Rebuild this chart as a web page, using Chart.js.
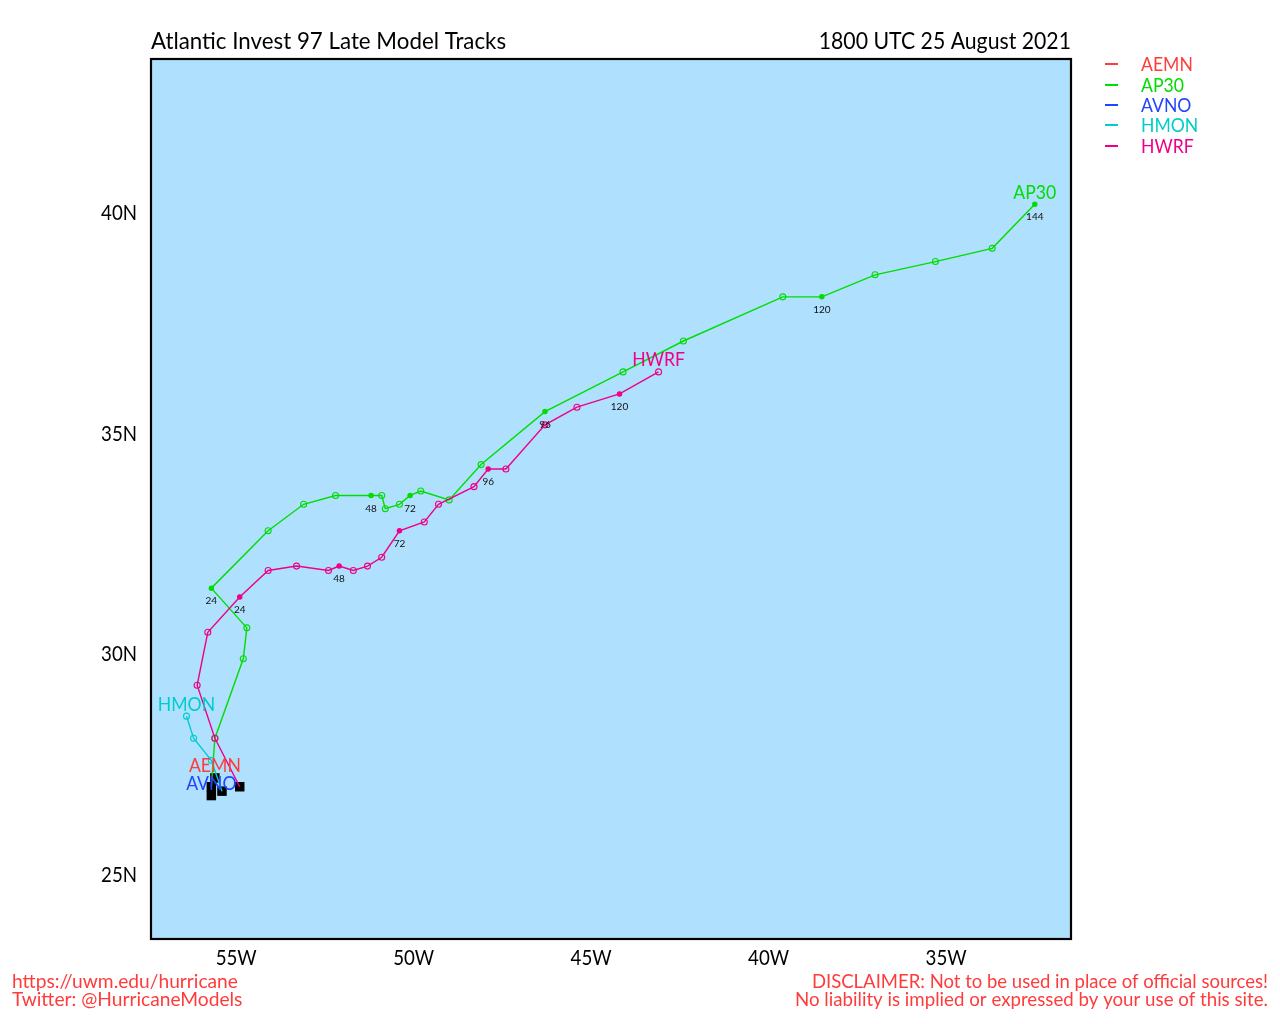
<!DOCTYPE html>
<html>
<head>
<meta charset="utf-8">
<title>Atlantic Invest 97 Late Model Tracks</title>
<script src="https://cdn.jsdelivr.net/npm/chart.js@4"></script>
<style>
  html, body { margin: 0; padding: 0; background: #fff; }
  canvas { display: block; }
</style>
</head>
<body>
<canvas id="tracks" width="1280" height="1024"></canvas>
<script>
// Tick labels
const lonTicks = [-55, -50, -45, -40, -35];
const lonLabels = ['55W', '50W', '45W', '40W', '35W'];
const latTicks = [25, 30, 35, 40];
const latLabels = ['25N', '30N', '35N', '40N'];

// Model tracks
const ap30Lon = [-55.7, -55.6, -54.8, -54.7, -55.7, -54.1, -53.1, -52.2, -51.2, -50.9, -50.8, -50.4, -50.1, -49.8, -49.0, -48.1, -46.3, -44.1, -42.4, -39.6, -38.5, -37.0, -35.3, -33.7, -32.5];
const ap30Lat = [27.0, 28.1, 29.9, 30.6, 31.5, 32.8, 33.4, 33.6, 33.6, 33.6, 33.3, 33.4, 33.6, 33.7, 33.5, 34.3, 35.5, 36.4, 37.1, 38.1, 38.1, 38.6, 38.9, 39.2, 40.2];
const ap30Hours = ['', '', '', '', '24', '', '', '', '48', '', '', '', '72', '', '', '', '96', '', '', '', '120', '', '', '', '144'];

const hwrfLon = [-54.9, -55.6, -56.1, -55.8, -54.9, -54.1, -53.3, -52.4, -52.1, -51.7, -51.3, -50.9, -50.4, -49.7, -49.3, -48.3, -47.9, -47.4, -46.3, -45.4, -44.2, -43.1];
const hwrfLat = [27.0, 28.1, 29.3, 30.5, 31.3, 31.9, 32.0, 31.9, 32.0, 31.9, 32.0, 32.2, 32.8, 33.0, 33.4, 33.8, 34.2, 34.2, 35.2, 35.6, 35.9, 36.4];
const hwrfHours = ['', '', '', '', '24', '', '', '', '48', '', '', '', '72', '', '', '', '96', '', '', '', '120', ''];

const hmonLon = [-55.4, -55.7, -56.2, -56.4];
const hmonLat = [26.9, 27.6, 28.1, 28.6];
const hmonHours = ['', '', '', ''];

const aemnLon = [-55.6];
const aemnLat = [27.2];
const aemnHours = [''];

const avnoLon = [-55.7];
const avnoLat = [26.8];
const avnoHours = [''];

// Legend
const modelNames = ['AEMN', 'AP30', 'AVNO', 'HMON', 'HWRF'];
const modelColors = ['#ff3b3b', '#00dd00', '#2244ff', '#00cccc', '#ee0088'];

function toPoints(lons, lats) {
  return lons.map((lon, i) => ({ x: lon, y: lats[i] }));
}

function track(name, lons, lats, hours) {
  const idx = modelNames.indexOf(name);
  const color = modelColors[idx];
  return {
    label: name,
    data: toPoints(lons, lats),
    hours: hours,
    showLine: true,
    borderColor: color,
    borderWidth: 1.4,
    pointBorderColor: color,
    pointBorderWidth: 1.1,
    pointBackgroundColor: ctx => hours[ctx.dataIndex] ? color : 'transparent',
    pointRadius: ctx => ctx.dataIndex === 0 ? 0 : (hours[ctx.dataIndex] ? 2.2 : 3),
    // later models sit on top, chart.js draws the lowest order last
    order: modelNames.length - idx
  };
}

// Black boxes at each model's starting position, under the lines
const startBoxes = {
  label: 'start',
  data: toPoints(
    [aemnLon[0], avnoLon[0], ap30Lon[0], hmonLon[0], hwrfLon[0]],
    [aemnLat[0], avnoLat[0], ap30Lat[0], hmonLat[0], hwrfLat[0]]
  ),
  showLine: false,
  pointStyle: 'rect',
  pointRadius: 6.7,
  pointBorderWidth: 0,
  pointBackgroundColor: '#000',
  order: 10
};

const tracks = [
  track('AEMN', aemnLon, aemnLat, aemnHours),
  track('AP30', ap30Lon, ap30Lat, ap30Hours),
  track('AVNO', avnoLon, avnoLat, avnoHours),
  track('HMON', hmonLon, hmonLat, hmonHours),
  track('HWRF', hwrfLon, hwrfLat, hwrfHours)
];

// squeeze is a horizontal scale, the reference text is narrower than plain Lato
function putText(ctx, text, x, y, font, color, align, squeeze) {
  ctx.save();
  ctx.translate(x, y);
  ctx.scale(squeeze || 1, 1);
  ctx.font = font;
  ctx.fillStyle = color;
  ctx.textAlign = align || 'left';
  ctx.textBaseline = 'middle';
  ctx.fillText(text, 0, 0);
  ctx.restore();
}

// Map background and frame
const mapFrame = {
  id: 'mapFrame',
  beforeDatasetsDraw(chart) {
    const a = chart.chartArea;
    chart.ctx.fillStyle = '#afe0fe';
    chart.ctx.fillRect(a.left, a.top, a.width, a.height);
  },
  afterDraw(chart) {
    const a = chart.chartArea, ctx = chart.ctx;
    ctx.strokeStyle = '#000';
    ctx.lineWidth = 2.2;
    ctx.strokeRect(a.left, a.top, a.width, a.height);
  }
};

// Titles, tick labels, model names, forecast hours, legend and footer
const mapText = {
  id: 'mapText',
  afterDraw(chart) {
    const ctx = chart.ctx, xs = chart.scales.x, ys = chart.scales.y;

    putText(ctx, 'Atlantic Invest 97 Late Model Tracks', 151, 41, '24px Lato', '#000', 'left', 0.93);
    putText(ctx, '1800 UTC 25 August 2021', 1071, 41, '24px Lato', '#000', 'right', 0.885);

    lonTicks.forEach((v, i) => {
      putText(ctx, lonLabels[i], xs.getPixelForValue(v), 958, '22px Lato', '#000', 'center', 0.85);
    });
    latTicks.forEach((v, i) => {
      putText(ctx, latLabels[i], 137, ys.getPixelForValue(v), '22px Lato', '#000', 'right', 0.85);
    });

    tracks.forEach(t => {
      t.data.forEach((p, i) => {
        if (t.hours[i]) {
          putText(ctx, t.hours[i], xs.getPixelForValue(p.x), ys.getPixelForValue(p.y) + 13, '10px Lato', '#111', 'center');
        }
      });
      const last = t.data[t.data.length - 1];
      putText(ctx, t.label, xs.getPixelForValue(last.x), ys.getPixelForValue(last.y) - 12, '20px Lato', t.borderColor, 'center', 0.88);
    });

    const legendY = [64, 85, 105, 125, 146];
    modelNames.forEach((name, i) => {
      ctx.strokeStyle = modelColors[i];
      ctx.lineWidth = 2;
      ctx.beginPath();
      ctx.moveTo(1105, legendY[i]);
      ctx.lineTo(1118, legendY[i]);
      ctx.stroke();
      putText(ctx, name, 1141, legendY[i] + 1, '20px Lato', modelColors[i], 'left', 0.88);
    });

    const red = '#ff3b3b';
    putText(ctx, 'https://uwm.edu/hurricane', 12, 982, '19.2px Lato', red);
    putText(ctx, 'Twitter: @HurricaneModels', 12, 1000, '19.2px Lato', red);
    putText(ctx, 'DISCLAIMER: Not to be used in place of official sources!', 1268, 982, '18.5px Lato', red, 'right');
    putText(ctx, 'No liability is implied or expressed by your use of this site.', 1268, 1000, '18.7px Lato', red, 'right');
  }
};

new Chart(document.getElementById('tracks'), {
  type: 'scatter',
  data: { datasets: [...tracks, startBoxes] },
  plugins: [mapFrame, mapText],
  options: {
    responsive: false,
    animation: false,
    layout: { padding: { left: 0, top: 59, right: 209, bottom: 0 } },
    plugins: {
      legend: { display: false },
      title: { display: false },
      tooltip: { enabled: false }
    },
    scales: {
      x: {
        type: 'linear',
        min: -57.4,
        max: -31.48,
        afterBuildTicks: axis => { axis.ticks = lonTicks.map(v => ({ value: v })); },
        afterFit: axis => { axis.height = 85; },
        grid: { display: false, drawTicks: true, tickLength: 7, tickColor: '#444', tickWidth: 1 },
        border: { display: false },
        ticks: { display: false }
      },
      y: {
        type: 'linear',
        min: 23.55,
        max: 43.49,
        afterBuildTicks: axis => { axis.ticks = latTicks.map(v => ({ value: v })); },
        afterFit: axis => { axis.width = 151; },
        grid: { display: false, drawTicks: true, tickLength: 7, tickColor: '#444', tickWidth: 1 },
        border: { display: false },
        ticks: { display: false }
      }
    }
  }
});
</script>
</body>
</html>
